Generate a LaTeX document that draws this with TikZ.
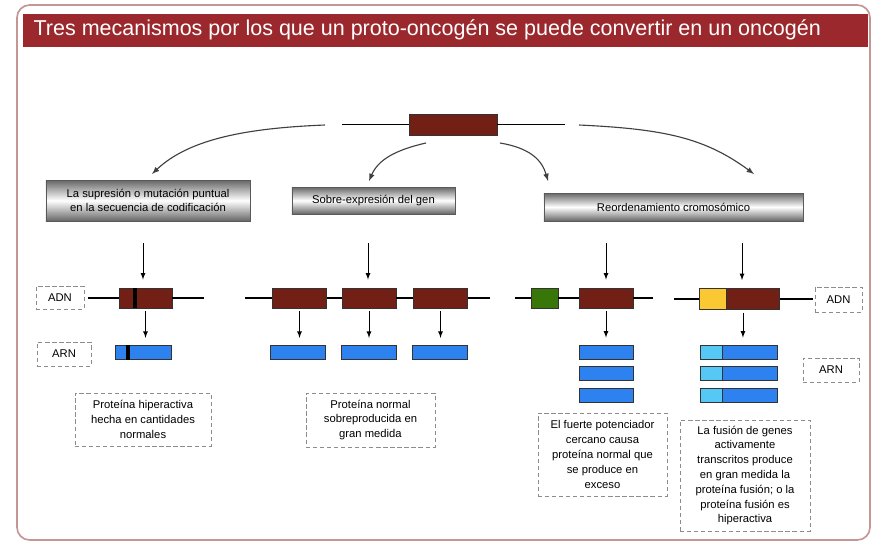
\documentclass[tikz,border=0pt]{standalone}
\usepackage{fontspec}
\setmainfont{Liberation Sans}
\usepackage{xcolor}
\usepackage{tikz}
\usetikzlibrary{arrows, positioning}

\definecolor{titlered}{RGB}{155,40,44}
\definecolor{framered}{RGB}{196,150,150}
\definecolor{genered}{RGB}{114,31,22}
\definecolor{enhgreen}{RGB}{56,118,10}
\definecolor{fusyellow}{RGB}{250,200,50}
\definecolor{rnablue}{RGB}{45,130,240}
\definecolor{fuscyan}{RGB}{85,200,245}

\begin{document}
\begin{tikzpicture}[x=0.025cm, y=-0.025cm, >=latex, node distance=0.175cm, thick,
    font=\fontsize{8}{10.5}\selectfont,
    gene/.style={draw=black!80, fill=genered, minimum width=1.35cm, minimum height=0.5cm, inner sep=0pt, line width=0.6pt},
    rna/.style={draw=black!80, fill=rnablue, minimum width=1.375cm, minimum height=0.36cm, inner sep=0pt, line width=0.6pt},
    mech/.style={draw=black!65, top color=black!60, bottom color=black!60, middle color=white, align=center, inner sep=0pt, line width=0.6pt},
    note/.style={draw=black!45, densely dashed, align=center, inner sep=0pt, line width=0.5pt},
    strand/.style={line width=1.1pt},
    curvearrow/.style={->, black!75, line width=0.8pt},
    down/.style={->, line width=0.6pt}]

\useasboundingbox (0,0) rectangle (887,547);

% frame and title
\draw[framered, line width=1.2pt, rounded corners=9pt] (17,5) rectangle (870,540);
\node[fill=titlered, minimum width=21.125cm, minimum height=0.825cm, anchor=north west, inner sep=0pt] (bar) at (22,13) {};
\node[anchor=west, text=white, font=\fontsize{15.3}{18}\selectfont, inner sep=0pt] (title) at ([xshift=0.275cm]bar.west) {Tres mecanismos por los que un proto-oncogén se puede convertir en un oncogén};

% proto-oncogene
\node[gene, minimum width=2.2cm, minimum height=0.525cm] (top) at (453,124.5) {};
\coordinate (topL) at (342,124.5);
\coordinate (topR) at (565,124.5);
\draw[strand] (topL) -- (top);
\draw[strand] (top) -- (topR);

% the three mechanisms
\node[mech, minimum width=5.1cm, minimum height=1.025cm] (mut) at (148,200.5) {La supresión o mutación puntual\\en la secuencia de codificación};
\node[mech, minimum width=4.075cm, minimum height=0.675cm] (over) at (373.5,200.5) {Sobre-expresión del gen};
\node[mech, minimum width=6.475cm, minimum height=0.7cm] (reo) at (673.5,207) {Reordenamiento cromosómico};

\coordinate (b1s) at (325,125);
\coordinate (b1e) at (152,174);
\coordinate (b2s) at (426,143);
\coordinate (b2e) at (369,181);
\coordinate (b3s) at (500,143);
\coordinate (b3e) at (548,181);
\coordinate (b4s) at (579,125);
\coordinate (b4e) at (754,174);
\draw[curvearrow] (b1s) .. controls (250,128) and (190,138) .. (b1e);
\draw[curvearrow] (b2s) .. controls (395,150) and (378,160) .. (b2e);
\draw[curvearrow] (b3s) .. controls (530,148) and (542,160) .. (b3e);
\draw[curvearrow] (b4s) .. controls (665,129) and (705,138) .. (b4e);

% DNA
\node[gene, minimum width=1.325cm] (g1) at (145.5,298) {};
\node[fill=black, minimum width=0.12cm, minimum height=0.5cm, inner sep=0pt] (m1) at (135,298) {};
\coordinate (l1a) at (88,298);
\coordinate (l1b) at (204,298);
\draw[strand] (l1a) -- (g1);
\draw[strand] (g1) -- (l1b);

\node[gene] (g2a) at (299.5,298) {};
\node[gene] (g2b) at (369,298) {};
\node[gene] (g2c) at (440.5,298) {};
\coordinate (l2a) at (245,298);
\coordinate (l2b) at (490,298);
\draw[strand] (l2a) -- (g2a);
\draw[strand] (g2a) -- (g2b);
\draw[strand] (g2b) -- (g2c);
\draw[strand] (g2c) -- (l2b);

\node[gene, fill=enhgreen, minimum width=0.675cm] (enh) at (544.5,298) {};
\node[gene] (g3) at (606,298) {};
\coordinate (l3a) at (515,298);
\coordinate (l3b) at (653,298);
\draw[strand] (l3a) -- (enh);
\draw[strand] (enh) -- (g3);
\draw[strand] (g3) -- (l3b);

\node[gene, fill=fusyellow, minimum width=0.675cm, minimum height=0.525cm] (fus) at (712.5,299) {};
\node[gene, minimum width=1.325cm, minimum height=0.525cm, right=0pt of fus] (g4) {};
\coordinate (l4a) at (674,299);
\coordinate (l4b) at (813,299);
\draw[strand] (l4a) -- (fus);
\draw[strand] (g4) -- (l4b);

% RNA
\node[rna, minimum width=1.4cm] (r1) at (143,352.5) {};
\node[fill=black, minimum width=0.12cm, minimum height=0.36cm, inner sep=0pt] (m2) at (128,352.5) {};
\node[rna] (r2a) at (297.5,352.5) {};
\node[rna] (r2b) at (368.5,352.5) {};
\node[rna] (r2c) at (439.5,352.5) {};

\node[rna, minimum width=1.35cm, minimum height=0.35cm] (r3a) at (606,352) {};
\node[rna, minimum width=1.35cm, minimum height=0.35cm, below=of r3a] (r3b) {};
\node[rna, minimum width=1.35cm, minimum height=0.35cm, below=of r3b] (r3c) {};

\node[rna, fill=fuscyan, minimum width=0.55cm, minimum height=0.35cm] (c4a) at (711,352) {};
\node[rna, minimum height=0.35cm, right=0pt of c4a] (r4a) {};
\node[rna, fill=fuscyan, minimum width=0.55cm, minimum height=0.35cm, below=of c4a] (c4b) {};
\node[rna, minimum height=0.35cm, right=0pt of c4b] (r4b) {};
\node[rna, fill=fuscyan, minimum width=0.55cm, minimum height=0.35cm, below=of c4b] (c4c) {};
\node[rna, minimum height=0.35cm, right=0pt of c4c] (r4c) {};

% arrows down
\coordinate (a1) at (143,243);
\coordinate (a2) at (368,243);
\coordinate (a3) at (606,243);
\coordinate (a4) at (742,243);
\draw[down, shorten >=0.2cm] (a1) -- (a1 |- g1.north);
\draw[down, shorten >=0.2cm] (a2) -- (a2 |- g2b.north);
\draw[down, shorten >=0.2cm] (a3) -- (a3 |- g3.north);
\draw[down, shorten >=0.2cm] (a4) -- (a4 |- g4.north);

\draw[down, shorten <=2pt, shorten >=5pt] (g1) -- (g1 |- r1.north);
\draw[down, shorten <=2pt, shorten >=5pt] (g2a) -- (g2a |- r2a.north);
\draw[down, shorten <=2pt, shorten >=5pt] (g2b) -- (g2b |- r2b.north);
\draw[down, shorten <=2pt, shorten >=5pt] (g2c) -- (g2c |- r2c.north);
\draw[down, shorten <=2pt, shorten >=5pt] (g3) -- (r3a);
\draw[down, shorten <=2pt, shorten >=5pt] ([xshift=-0.26cm]g4.south) -- ([xshift=-0.26cm]g4.south |- r4a.north);

% labels
\node[note, minimum width=1.2cm, minimum height=0.575cm] (adn1) at (60,297.5) {ADN};
\node[note, minimum width=1.175cm, minimum height=0.625cm] (adn2) at (838.5,299.5) {ADN};
\node[note, minimum width=1.35cm, minimum height=0.6cm] (arn1) at (64,354) {ARN};
\node[note, minimum width=1.4cm, minimum height=0.6cm] (arn2) at (831,370) {ARN};

% results
\node[note, minimum width=3.4cm, minimum height=1.325cm] (res1) at (143,419.5) {Proteína hiperactiva\\hecha en cantidades\\normales};
\node[note, minimum width=3.225cm, minimum height=1.35cm] (res2) at (370.5,420) {Proteína normal\\sobreproducida en\\gran medida};
\node[note, minimum width=3.225cm, minimum height=2.075cm] (res3) at (602.5,454.5) {El fuerte potenciador\\cercano causa\\proteína normal que\\se produce en\\exceso};
\node[note, minimum width=3.25cm, minimum height=2.775cm] (res4) at (745,475.5) {La fusión de genes\\activamente\\transcritos produce\\en gran medida la\\proteína fusión; o la\\proteína fusión es\\hiperactiva};
\end{tikzpicture}
\end{document}
